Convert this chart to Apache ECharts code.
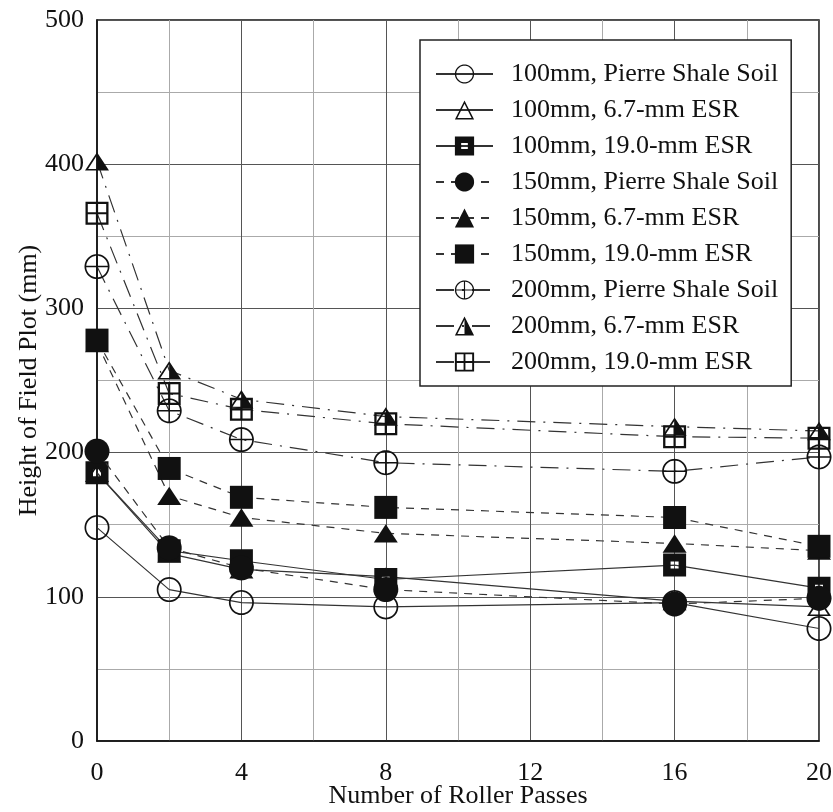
<!DOCTYPE html>
<html>
<head>
<meta charset="utf-8">
<script src="https://cdn.jsdelivr.net/npm/echarts@6/dist/echarts.min.js"></script>
<style>html,body{margin:0;padding:0;background:#fff}#c{width:833px;height:812px}</style>
</head>
<body>
<div id="c"></div>
<script>
// ---- data ----
const passes = [0, 2, 4, 8, 16, 20];
const seriesNames = [
  '100mm, Pierre Shale Soil', '100mm, 6.7-mm ESR', '100mm, 19.0-mm ESR',
  '150mm, Pierre Shale Soil', '150mm, 6.7-mm ESR', '150mm, 19.0-mm ESR',
  '200mm, Pierre Shale Soil', '200mm, 6.7-mm ESR', '200mm, 19.0-mm ESR'
];
const s100PSS = [148, 105, 96, 93, 96, 78];
const s100E67 = [186, 130, 119, 114, 97, 93];
const s100E19 = [186, 132, 125, 112, 122, 106];
const s150PSS = [201, 134, 120, 105, 95, 99];
const s150E67 = [276, 170, 155, 144, 137, 132];
const s150E19 = [278, 189, 169, 162, 155, 135];
const s200PSS = [329, 229, 209, 193, 187, 197];
const s200E67 = [402, 257, 237, 225, 218, 215];
const s200E19 = [366, 241, 230, 220, 211, 210];
const xTicks = [0, 4, 8, 12, 16, 20];
const yTicks = [0, 100, 200, 300, 400, 500];

// ---- symbol shapes ----
function circlePath(cx, cy, r, ccw) {
  const n = 48; let d = '';
  for (let i = 0; i <= n; i++) {
    const a = (ccw ? -1 : 1) * i / n * Math.PI * 2;
    const x = (cx + r * Math.cos(a)).toFixed(2), y = (cy + r * Math.sin(a)).toFixed(2);
    d += (i === 0 ? 'M' : 'L') + x + ',' + y + ' ';
  }
  return d + 'Z ';
}
function rectPath(x0, y0, x1, y1, ccw) {
  return ccw ? `M${x0},${y0} L${x0},${y1} L${x1},${y1} L${x1},${y0} Z `
             : `M${x0},${y0} L${x1},${y0} L${x1},${y1} L${x0},${y1} Z `;
}
const R = 12.5, T = 1.7;
const openCircle = 'path://' + circlePath(R, R, R, false) + circlePath(R, R, R - T, true);
const filledCircle = 'path://' + circlePath(R, R, R, false);
const crossCircle = 'path://' + circlePath(R, R, R, false) + circlePath(R, R, R - T, true)
  + rectPath(R - 0.75, 0, R + 0.75, 2 * R, false) + rectPath(0, R - 0.75, 2 * R, R + 0.75, false);
const triOuter = 'M12,0 L24,21 L0,21 Z ';
const triInnerHole = 'M12,3.6 L3.1,19.2 L20.9,19.2 Z ';
const openTri = 'path://' + triOuter + triInnerHole;
const filledTri = 'path://' + triOuter;
const halfTri = 'path://' + triOuter + triInnerHole + 'M12,3.6 L20.9,19.2 L12,19.2 Z';
const S = 23;
const filledSq = 'path://' + rectPath(0, 0, S, S, false);
const dotSq = 'path://' + rectPath(0, 0, S, S, false) + rectPath(7.5, 8, 15.5, 15, true);
const b = 2.3, c1 = 10.4, c2 = 12.6;
const crossSq = 'path://' + rectPath(0, 0, S, S, false) + rectPath(b, b, c1, c1, true)
  + rectPath(c2, b, S - b, c1, true) + rectPath(b, c2, c1, S - b, true) + rectPath(c2, c2, S - b, S - b, true);

const values = [s100PSS, s100E67, s100E19, s150PSS, s150E67, s150E19, s200PSS, s200E67, s200E19];
const symbols = [openCircle, openTri, dotSq, filledCircle, filledTri, filledSq, crossCircle, halfTri, crossSq];
const sizes = [[25, 25], [24, 21], [23, 23], [25, 25], [24, 21], [23, 23], [25, 25], [24, 21], [23, 23]];
const dashes = ['solid', 'solid', 'solid', [8, 7], [8, 7], [8, 7], [18, 8, 2, 8], [18, 8, 2, 8], [18, 8, 2, 8]];

const FONT = "'Liberation Serif', 'Times New Roman', serif";
const series = seriesNames.map((name, i) => ({
  name, type: 'line',
  data: passes.map((x, j) => [x, values[i][j]]),
  symbol: symbols[i], symbolSize: sizes[i], symbolKeepAspect: true,
  showAllSymbol: true,
  itemStyle: { color: '#111', borderWidth: 0 },
  lineStyle: { color: '#333', width: 1.2, type: dashes[i] },
  emphasis: { disabled: true },
  animation: false,
  z: 2 + i
}));

const chart = echarts.init(document.getElementById('c'), null, { renderer: 'canvas' });
chart.setOption({
  backgroundColor: '#fff',
  animation: false,
  grid: { left: 97, right: 14, top: 20, bottom: 71, containLabel: false, outerBoundsMode: 'none',
          show: true, borderColor: '#111', borderWidth: 1.5, backgroundColor: 'transparent' },
  xAxis: {
    type: 'value', min: xTicks[0], max: xTicks[xTicks.length - 1], interval: 4,
    name: 'Number of Roller Passes', nameLocation: 'middle', nameGap: 42, nameMoveOverlap: false,
    nameTextStyle: { fontFamily: FONT, fontSize: 26, color: '#111' },
    axisLine: { show: true, lineStyle: { color: '#111', width: 1.5 } },
    axisTick: { show: false },
    axisLabel: { fontFamily: FONT, fontSize: 26, color: '#111', margin: 19, formatter: v => xTicks.includes(v) ? String(v) : '' },
    splitLine: { show: true, lineStyle: { color: '#555', width: 1 } },
    minorTick: { show: false, splitNumber: 2 },
    minorSplitLine: { show: true, lineStyle: { color: '#aaa', width: 1 } }
  },
  yAxis: {
    type: 'value', min: yTicks[0], max: yTicks[yTicks.length - 1], interval: 100,
    name: 'Height of Field Plot (mm)', nameLocation: 'middle', nameGap: 55, nameMoveOverlap: false,
    nameTextStyle: { fontFamily: FONT, fontSize: 26, color: '#111' },
    axisLine: { show: true, lineStyle: { color: '#111', width: 1.5 } },
    axisTick: { show: false },
    axisLabel: { fontFamily: FONT, fontSize: 26, color: '#111', margin: 13, formatter: v => yTicks.includes(v) ? String(v) : '' },
    splitLine: { show: true, lineStyle: { color: '#555', width: 1 } },
    minorTick: { show: false, splitNumber: 2 },
    minorSplitLine: { show: true, lineStyle: { color: '#aaa', width: 1 } }
  },
  legend: {
    orient: 'vertical', left: 420, top: 40,
    padding: [21, 13, 11, 15],
    backgroundColor: '#fff', borderColor: '#222', borderWidth: 1.5,
    itemWidth: 57, itemHeight: 24, itemGap: 10,
    textStyle: { fontFamily: FONT, fontSize: 26, color: '#111', padding: [0, 0, 0, 13] },
    selectedMode: false,
    data: seriesNames
  },
  series
});
</script>
</body>
</html>
